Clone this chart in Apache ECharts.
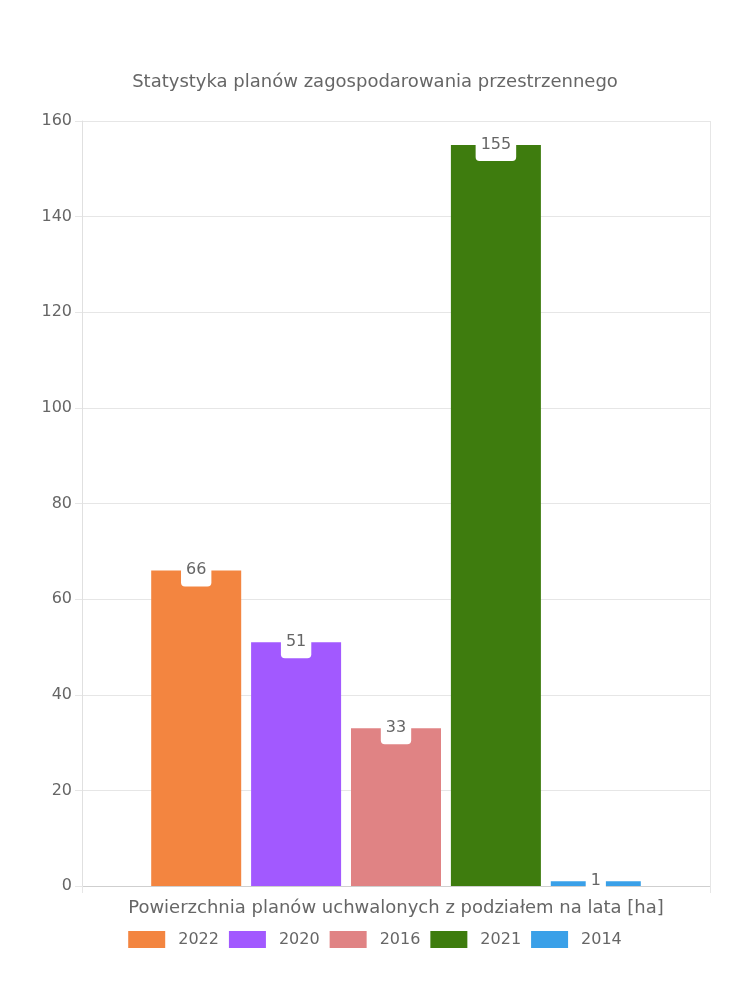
<!DOCTYPE html>
<html>
<head>
<meta charset="utf-8">
<script src="https://cdn.jsdelivr.net/npm/echarts@6/dist/echarts.min.js"></script>
<style>html,body{margin:0;padding:0;background:#fff}#c{width:750px;height:1000px}</style>
</head>
<body>
<div id="c"></div>
<script>
const titleText = 'Statystyka planów zagospodarowania przestrzennego';
const categories = ['Powierzchnia planów uchwalonych z podziałem na lata [ha]'];
const seriesNames = ['2022', '2020', '2016', '2021', '2014'];
const seriesValues = [66, 51, 33, 155, 1];
const seriesColors = ['#f38540', '#a259ff', '#e08384', '#3e7c0e', '#3aa0e8'];
const yTicks = { min: 0, max: 160, interval: 20 };

const FONT = 'DejaVu Sans';
const chart = echarts.init(document.getElementById('c'), null, { renderer: 'canvas' });
const series = seriesNames.map((name, i) => ({
  name: name,
  type: 'bar',
  data: [seriesValues[i]],
  barWidth: 90,
  barGap: '11%',
  itemStyle: { color: seriesColors[i] },
  label: {
    show: true,
    position: 'top',
    distance: -16,
    backgroundColor: '#fff',
    borderRadius: 4,
    padding: [8, 5],
    color: '#666',
    fontSize: 16,
    fontFamily: FONT,
    lineHeight: 17
  }
}));
chart.setOption({
  animation: false,
  textStyle: { fontFamily: FONT },
  title: {
    text: titleText,
    left: 'center',
    top: 68,
    textStyle: { fontSize: 18, fontWeight: 'normal', color: '#666', fontFamily: FONT }
  },
  grid: { left: 82, right: 40, top: 121, bottom: 114 },
  legend: {
    bottom: 47,
    left: 'center',
    icon: 'rect',
    itemWidth: 37,
    itemHeight: 17,
    itemGap: 10,
    textStyle: { fontSize: 16, color: '#666', fontFamily: FONT, padding: [0, 0, 0, 8] },
    data: seriesNames
  },
  xAxis: {
    type: 'category',
    data: categories,
    axisLine: { lineStyle: { color: '#cfcfcf' } },
    axisTick: { show: true, length: 7, lineStyle: { color: '#e6e6e6' } },
    splitLine: { show: true, lineStyle: { color: '#e6e6e6' } },
    axisLabel: { fontSize: 18, color: '#666', fontFamily: FONT, margin: 13 }
  },
  yAxis: {
    type: 'value',
    min: yTicks.min,
    max: yTicks.max,
    interval: yTicks.interval,
    axisLine: { show: true, lineStyle: { color: '#e0e0e0' } },
    axisTick: { show: true, length: 7, lineStyle: { color: '#e6e6e6' } },
    splitLine: { show: true, lineStyle: { color: '#e6e6e6' } },
    axisLabel: { fontSize: 16, color: '#666', fontFamily: FONT, margin: 10 }
  },
  series: series
});
</script>
</body>
</html>
